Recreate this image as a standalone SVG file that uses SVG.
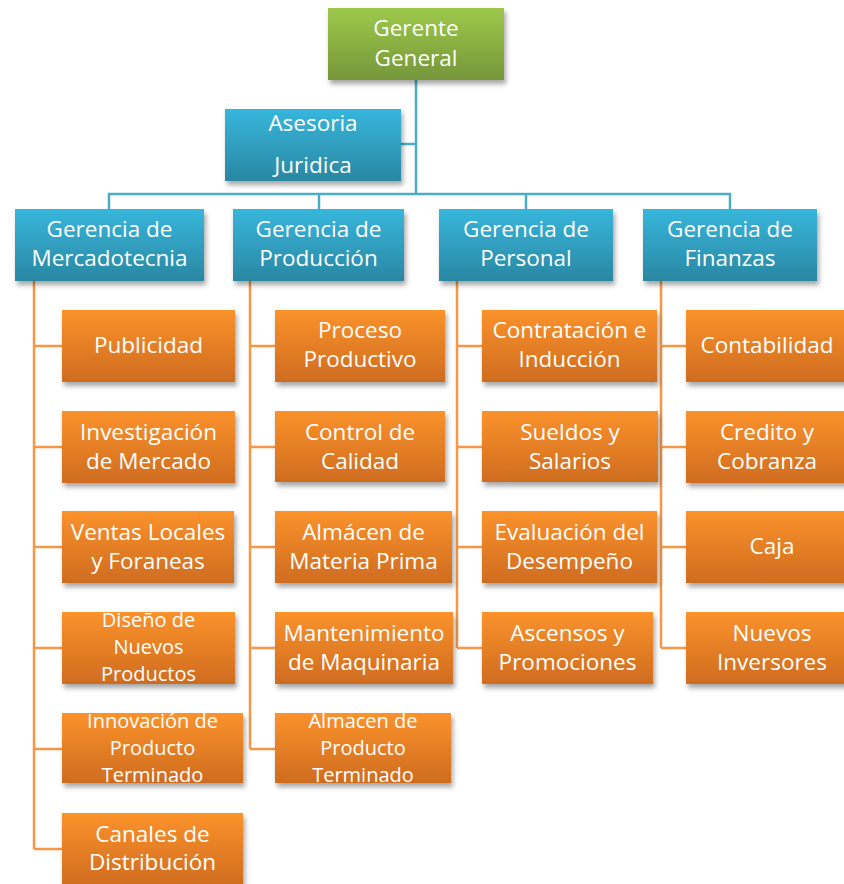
<svg xmlns="http://www.w3.org/2000/svg" width="844" height="884" viewBox="0 0 844 884">
  <defs>
    <linearGradient id="gGreen" x1="0" y1="0" x2="0" y2="1">
      <stop offset="0" stop-color="#9dc94a"/>
      <stop offset="1" stop-color="#76963a"/>
    </linearGradient>
    <linearGradient id="gBlue" x1="0" y1="0" x2="0" y2="1">
      <stop offset="0" stop-color="#37b6dc"/>
      <stop offset="1" stop-color="#2a87a2"/>
    </linearGradient>
    <linearGradient id="gOrange" x1="0" y1="0" x2="0" y2="1">
      <stop offset="0" stop-color="#fb922c"/>
      <stop offset="1" stop-color="#cf6c1f"/>
    </linearGradient>
    <filter id="shadow" x="-10%" y="-15%" width="125%" height="140%">
      <feDropShadow dx="2" dy="4" stdDeviation="2.5" flood-color="#000" flood-opacity="0.35"/>
    </filter>
  </defs>
  <style>
    .green { fill: url(#gGreen); filter: url(#shadow); }
    .blue { fill: url(#gBlue); filter: url(#shadow); }
    .orange { fill: url(#gOrange); filter: url(#shadow); }
    text { font-family: "Open Sans", "Noto Sans", sans-serif; font-size: 22.5px; fill: #ffffff; text-anchor: middle; }
    text.sm { font-size: 20px; }
    .lnBlue { fill: none; stroke: #4bacc6; stroke-width: 2.5; }
    .lnOrange { fill: none; stroke: #f79646; stroke-width: 2.5; }
  </style>

  <rect width="844" height="884" fill="#ffffff"/>

  <!-- connectors -->
  <g id="connectors">
    <path class="lnBlue" d="M416 80 V194 M401 144 H416 M109 209 V194 H730 V209 M319 194 V209 M526 194 V209"/>
    <path class="lnOrange" d="M34 281 V849 M34 346 H62 M34 447 H62 M34 547 H62 M34 648 H62 M34 749 H62 M34 849 H62"/>
    <path class="lnOrange" d="M250 281 V749 M250 346 H275 M250 447 H275 M250 547 H275 M250 648 H275 M250 749 H275"/>
    <path class="lnOrange" d="M457 281 V648 M457 346 H482 M457 447 H482 M457 547 H482 M457 648 H482"/>
    <path class="lnOrange" d="M661 281 V648 M661 346 H686 M661 447 H686 M661 547 H686 M661 648 H686"/>
  </g>

  <!-- top level -->
  <g id="gerente-general">
    <rect class="green" x="328" y="8" width="176" height="72"/>
    <text x="416" y="36">Gerente</text>
    <text x="416" y="66">General</text>
  </g>
  <g id="asesoria-juridica">
    <rect class="blue" x="225" y="109" width="176" height="72"/>
    <text x="313" y="131">Asesoria</text>
    <text x="313" y="173">Juridica</text>
  </g>

  <!-- departments -->
  <g id="gerencia-mercadotecnia">
    <rect class="blue" x="15" y="209" width="189" height="72"/>
    <text x="109.5" y="237">Gerencia de</text>
    <text x="109.5" y="266">Mercadotecnia</text>
  </g>
  <g id="gerencia-produccion">
    <rect class="blue" x="233" y="209" width="171" height="72"/>
    <text x="318.5" y="237">Gerencia de</text>
    <text x="318.5" y="266">Producción</text>
  </g>
  <g id="gerencia-personal">
    <rect class="blue" x="439" y="209" width="174" height="72"/>
    <text x="526" y="237">Gerencia de</text>
    <text x="526" y="266">Personal</text>
  </g>
  <g id="gerencia-finanzas">
    <rect class="blue" x="643" y="209" width="174" height="72"/>
    <text x="730" y="237">Gerencia de</text>
    <text x="730" y="266">Finanzas</text>
  </g>

  <!-- Mercadotecnia -->
  <g id="publicidad">
    <rect class="orange" x="62" y="310" width="173" height="72"/>
    <text x="148.5" y="353">Publicidad</text>
  </g>
  <g id="investigacion-mercado">
    <rect class="orange" x="62" y="411" width="173" height="72"/>
    <text x="148.5" y="440">Investigación</text>
    <text x="148.5" y="469">de Mercado</text>
  </g>
  <g id="ventas-locales">
    <rect class="orange" x="62" y="511" width="172" height="72"/>
    <text x="148" y="540">Ventas Locales</text>
    <text x="148" y="569">y Foraneas</text>
  </g>
  <g id="diseno-productos">
    <rect class="orange" x="62" y="612" width="173" height="72"/>
    <text class="sm" x="148.5" y="627">Diseño de</text>
    <text class="sm" x="148.5" y="654">Nuevos</text>
    <text class="sm" x="148.5" y="681">Productos</text>
  </g>
  <g id="innovacion-producto">
    <rect class="orange" x="62" y="713" width="181" height="70"/>
    <text class="sm" x="152.5" y="728">Innovación de</text>
    <text class="sm" x="152.5" y="755">Producto</text>
    <text class="sm" x="152.5" y="782">Terminado</text>
  </g>
  <g id="canales-distribucion">
    <rect class="orange" x="62" y="813" width="181" height="74"/>
    <text x="152.5" y="842">Canales de</text>
    <text x="152.5" y="870">Distribución</text>
  </g>

  <!-- Producción -->
  <g id="proceso-productivo">
    <rect class="orange" x="275" y="310" width="170" height="72"/>
    <text x="360" y="338">Proceso</text>
    <text x="360" y="367">Productivo</text>
  </g>
  <g id="control-calidad">
    <rect class="orange" x="275" y="411" width="170" height="71"/>
    <text x="360" y="440">Control de</text>
    <text x="360" y="469">Calidad</text>
  </g>
  <g id="almacen-materia-prima">
    <rect class="orange" x="275" y="511" width="177" height="72"/>
    <text x="363.5" y="540">Almácen de</text>
    <text x="363.5" y="569">Materia Prima</text>
  </g>
  <g id="mantenimiento-maquinaria">
    <rect class="orange" x="275" y="612" width="178" height="72"/>
    <text x="364" y="641">Mantenimiento</text>
    <text x="364" y="670">de Maquinaria</text>
  </g>
  <g id="almacen-producto-terminado">
    <rect class="orange" x="275" y="713" width="176" height="70"/>
    <text class="sm" x="363" y="728">Almacen de</text>
    <text class="sm" x="363" y="755">Producto</text>
    <text class="sm" x="363" y="782">Terminado</text>
  </g>

  <!-- Personal -->
  <g id="contratacion-induccion">
    <rect class="orange" x="482" y="310" width="175" height="72"/>
    <text x="569.5" y="338">Contratación e</text>
    <text x="569.5" y="367">Inducción</text>
  </g>
  <g id="sueldos-salarios">
    <rect class="orange" x="482" y="411" width="176" height="71"/>
    <text x="570" y="440">Sueldos y</text>
    <text x="570" y="469">Salarios</text>
  </g>
  <g id="evaluacion-desempeno">
    <rect class="orange" x="482" y="511" width="175" height="72"/>
    <text x="569.5" y="540">Evaluación del</text>
    <text x="569.5" y="569">Desempeño</text>
  </g>
  <g id="ascensos-promociones">
    <rect class="orange" x="482" y="612" width="171" height="72"/>
    <text x="567.5" y="641">Ascensos y</text>
    <text x="567.5" y="670">Promociones</text>
  </g>

  <!-- Finanzas -->
  <g id="contabilidad">
    <rect class="orange" x="686" y="310" width="162" height="72"/>
    <text x="767" y="353">Contabilidad</text>
  </g>
  <g id="credito-cobranza">
    <rect class="orange" x="686" y="411" width="162" height="72"/>
    <text x="767" y="440">Credito y</text>
    <text x="767" y="469">Cobranza</text>
  </g>
  <g id="caja">
    <rect class="orange" x="686" y="511" width="162" height="72"/>
    <text x="772" y="554">Caja</text>
  </g>
  <g id="nuevos-inversores">
    <rect class="orange" x="686" y="612" width="162" height="72"/>
    <text x="772" y="641">Nuevos</text>
    <text x="772" y="670">Inversores</text>
  </g>
</svg>
